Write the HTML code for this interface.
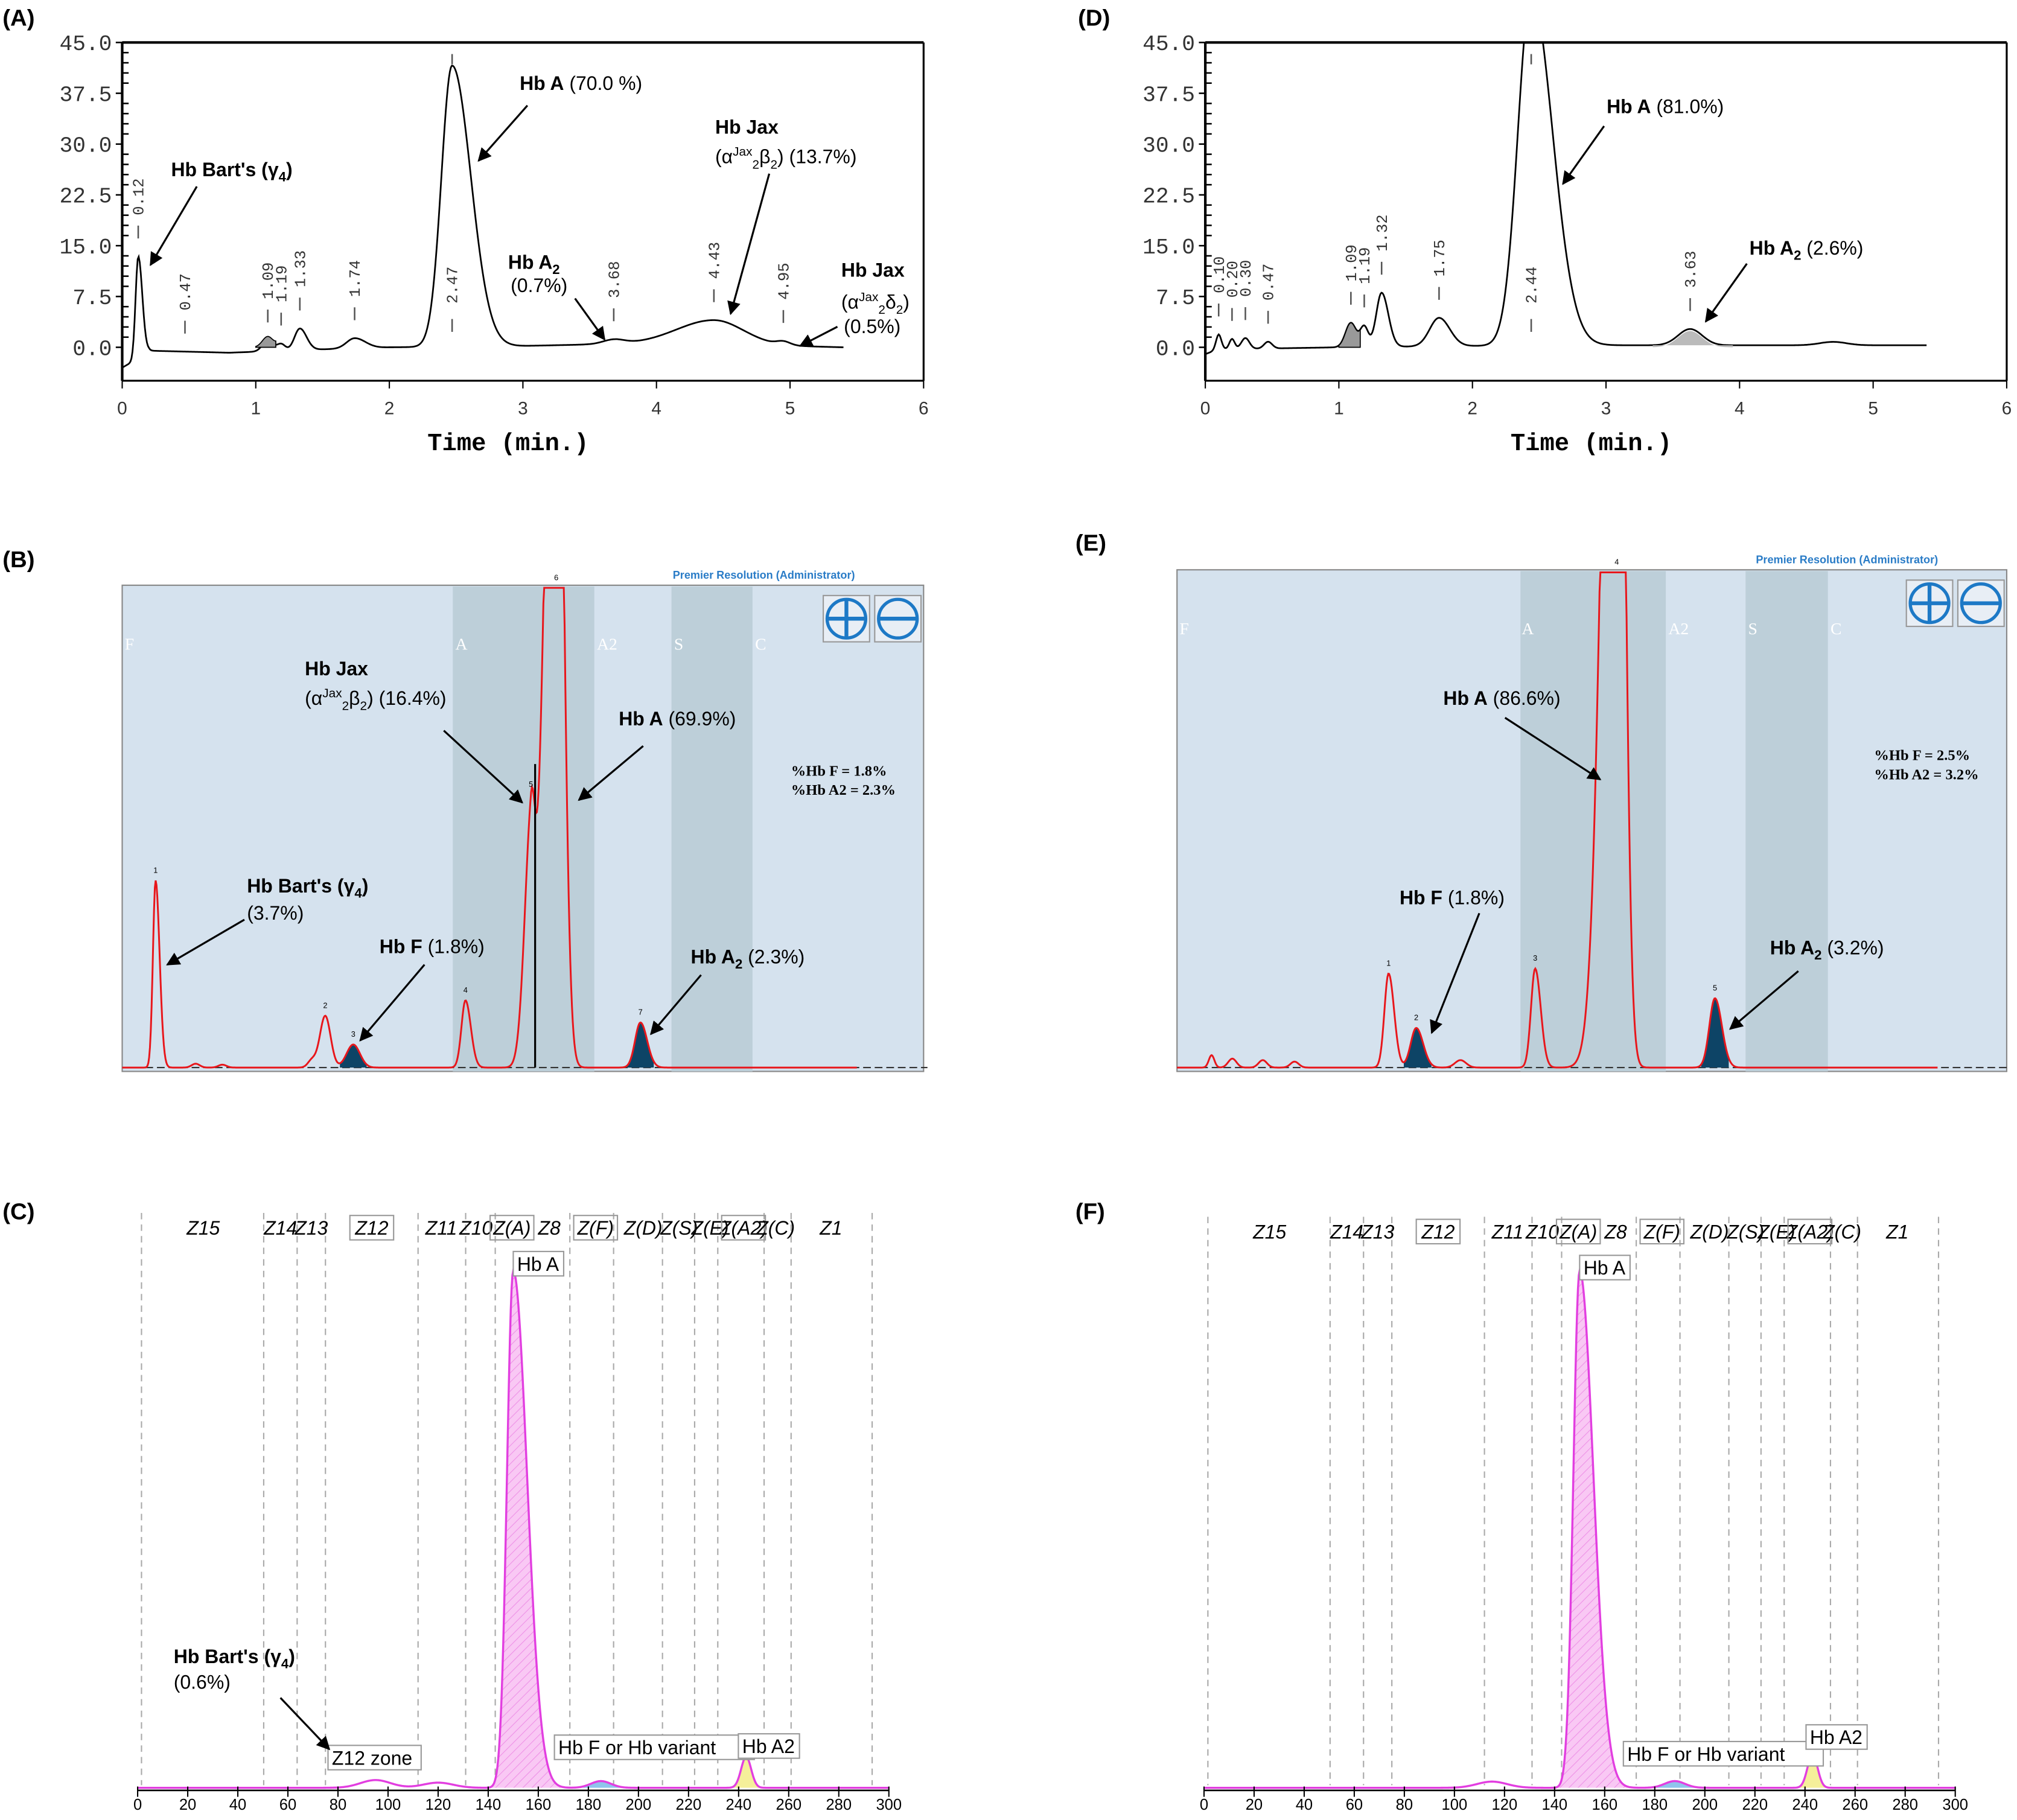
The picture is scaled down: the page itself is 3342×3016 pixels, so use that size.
<!DOCTYPE html>
<html><head><meta charset="utf-8">
<style>
html,body{margin:0;padding:0;background:#fff;}
svg{display:block;}
.mono{font-family:"Liberation Mono",monospace;}
.sans{font-family:"Liberation Sans",sans-serif;}
.ann{font-family:"Liberation Sans",sans-serif;font-size:15px;fill:#000;}
</style></head>
<body>
<svg id="fig" xmlns="http://www.w3.org/2000/svg" width="3342" height="3016" viewBox="0 0 1568 1415">
<defs>
<marker id="arr" viewBox="0 0 10 10" refX="9" refY="5" markerWidth="7" markerHeight="7" orient="auto"><path d="M0,0 L10,5 L0,10 z" fill="#000"/></marker>
<pattern id="hatch" width="5" height="5" patternUnits="userSpaceOnUse" patternTransform="rotate(45)"><rect width="5" height="5" fill="#f9c8f4"/><line x1="0" y1="0" x2="0" y2="5" stroke="#ee8fe6" stroke-width="1"/></pattern>
</defs>
<g id="root"></g>
</svg>
<script>
// ===== Panel A data (HPLC, minutes / signal) =====
const aPeakT  = [0.12, 1.09, 1.19, 1.33, 1.74, 2.47, 3.68, 4.43, 4.95];
const aPeakH  = [15.0, 1.6, 1.0, 3.2, 1.5, 41.5, 0.6, 3.6, 0.5];
const aPeakWL = [0.02, 0.04, 0.03, 0.04, 0.06, 0.08, 0.08, 0.28, 0.05];
const aPeakWR = [0.03, 0.04, 0.03, 0.05, 0.08, 0.14, 0.08, 0.22, 0.05];
const aBaseT  = [0.0, 0.09, 0.2, 0.8, 1.5, 2.0, 3.0, 3.7, 4.5, 5.0, 5.4];
const aBaseV  = [-3.0, -2.0, -0.5, -0.8, -0.3, 0.0, 0.2, 0.5, 0.4, 0.2, 0.0];
const aLabelT = ["0.12","0.47","1.09","1.19","1.33","1.74","2.47","3.68","4.43","4.95"];
const yTicks  = [0, 7.5, 15, 22.5, 30, 37.5, 45];
const xTicks  = [0, 1, 2, 3, 4, 5, 6];
// ===== Panel D data =====
const dPeakT  = [0.10, 0.20, 0.30, 0.47, 1.09, 1.19, 1.32, 1.75, 2.44, 3.63, 4.70];
const dPeakH  = [2.2, 1.5, 1.6, 1.0, 3.6, 3.0, 8.0, 4.2, 52.0, 2.4, 0.5];
const dPeakWL = [0.02, 0.02, 0.03, 0.03, 0.04, 0.03, 0.04, 0.07, 0.10, 0.09, 0.1];
const dPeakWR = [0.02, 0.02, 0.03, 0.03, 0.04, 0.03, 0.05, 0.08, 0.16, 0.09, 0.1];
const dBaseT  = [0.0, 0.1, 1.0, 2.0, 3.0, 4.0, 5.4];
const dBaseV  = [-1.0, -0.3, 0.0, 0.2, 0.3, 0.3, 0.3];
const dLabelT = ["0.10","0.20","0.30","0.47","1.09","1.19","1.32","1.75","2.44","3.63"];
// ===== Panel B data (Premier Resolution, rel. min / %) =====
const bPeakT  = [0.25, 0.55, 0.75, 1.42, 1.52, 1.73, 2.57, 3.06, 3.25, 3.88];
const bPeakH  = [39, 0.8, 0.6, 1.5, 10.8, 4.8, 14, 45, 200, 9.4];
const bPeakWL = [0.02, 0.03, 0.03, 0.03, 0.04, 0.05, 0.03, 0.05, 0.08, 0.04];
const bPeakWR = [0.03, 0.03, 0.03, 0.03, 0.04, 0.05, 0.04, 0.03, 0.05, 0.05];
// ===== Panel E data =====
const ePeakT  = [0.25, 0.40, 0.62, 0.85, 1.53, 1.73, 2.05, 2.59, 3.18, 3.89];
const ePeakH  = [2.5, 1.8, 1.5, 1.2, 19, 8, 1.5, 20, 250, 14];
const ePeakWL = [0.02, 0.03, 0.03, 0.03, 0.03, 0.04, 0.04, 0.03, 0.09, 0.04];
const ePeakWR = [0.02, 0.03, 0.03, 0.03, 0.04, 0.05, 0.04, 0.04, 0.05, 0.05];
// ===== Panel C data (capillary electrophoresis, zone units / %) =====
const cPeakT  = [95, 120, 150, 185, 243];
const cPeakH  = [1.5, 1.0, 100, 1.3, 6.0];
const cPeakWL = [6, 6, 2.5, 4, 2];
const cPeakWR = [6, 6, 5.5, 4, 2];
// ===== Panel F data =====
const fPeakT  = [115, 150, 188, 243];
const fPeakH  = [1.2, 100, 1.3, 6.5];
const fPeakWL = [6, 2.5, 4, 2];
const fPeakWR = [6, 5.5, 4, 2];
const ceTicks = [0,20,40,60,80,100,120,140,160,180,200,220,240,260,280,300];
const zoneNames = ["Z15","Z14","Z13","Z12","Z11","Z10","Z(A)","Z8","Z(F)","Z(D)","Z(S)","Z(E)","Z(A2)","Z(C)","Z1"];
const zoneBoxed = [false,false,false,true,false,false,true,false,true,false,false,false,true,false,false];

const NS = "http://www.w3.org/2000/svg";
const root = document.getElementById('root');
function el(tag, attrs, parent, text){
  const e = document.createElementNS(NS, tag);
  for (const k in attrs) e.setAttribute(k, attrs[k]);
  if (text !== undefined) e.textContent = text;
  (parent||root).appendChild(e);
  return e;
}
function lin(d0,d1,r0,r1){ return v => r0 + (v-d0)*(r1-r0)/(d1-d0); }
function interp(ts, vs, t){
  if (t<=ts[0]) return vs[0];
  for (let i=1;i<ts.length;i++) if (t<=ts[i]) return vs[i-1]+(vs[i]-vs[i-1])*(t-ts[i-1])/(ts[i]-ts[i-1]);
  return vs[vs.length-1];
}
function signal(t, T,H,WL,WR, bt,bv){
  let s = bt ? interp(bt,bv,t) : 0;
  for (let i=0;i<T.length;i++){ const w = t<T[i]?WL[i]:WR[i]; s += H[i]*Math.exp(-0.5*((t-T[i])/w)**2); }
  return s;
}
function trace(x,y,t0,t1,n,T,H,WL,WR,bt,bv,ymax){
  let d="";
  for (let i=0;i<=n;i++){ const t=t0+(t1-t0)*i/n; let v=signal(t,T,H,WL,WR,bt,bv); if(ymax!==undefined&&v>ymax)v=ymax; d+=(i?"L":"M")+x(t).toFixed(2)+","+y(v).toFixed(2); }
  return d;
}
function peakFill(x,y,t0,t1,T,H,WL,WR,base){
  let d="M"+x(t0)+","+y(base);
  for (let i=0;i<=60;i++){ const t=t0+(t1-t0)*i/60; d+="L"+x(t).toFixed(2)+","+y(signal(t,T,H,WL,WR)).toFixed(2); }
  return d+"L"+x(t1)+","+y(base)+"Z";
}
function arrow(x1,y1,x2,y2,name){
  const a = el('line',{x1,y1,x2,y2,stroke:'#000','stroke-width':1.5,'marker-end':'url(#arr)'});
  
  
}
function ann(x,y,bold,rest,name,size){
  const t = el('text',{x,y,class:'ann','font-size':size||15});
  
  
  el('tspan',{'font-weight':'bold'},t,bold);
  if (rest) el('tspan',{},t,rest);
  return t;
}
// rich: parts = [[text, 'n'|'b'|'sup'|'sub'|'bsub']]
function rich(x,y,parts,name,size){
  const t = el('text',{x,y,class:'ann','font-size':size||15});
  
  
  let shift=0;
  parts.forEach(([s,k])=>{
    const target = k==='sup'?-6:((k==='sub'||k==='bsub')?4:0);
    const a = {dy: target-shift};
    if (k!=='n' && k!=='b') a['font-size'] = (size||15)*0.65;
    if (k==='b' || k==='bsub') a['font-weight'] = 'bold';
    el('tspan',a,t,s); shift=target;
  });
  return t;
}
function panelLabel(x,y,txt){
  const t = el('text',{x,y,'font-family':'Liberation Sans,sans-serif','font-weight':'bold','font-size':18},root,txt);
  
  
}

// ===== HPLC panels A & D =====
function hplc(px, T,H,WL,WR,bt,bv,labels,id){
  const x = lin(0,6,px,px+623), y = lin(0,45,270,33);
  const g = el('g',{});
  
  
  el('line',{x1:px,y1:33,x2:px+623,y2:33,stroke:'#000','stroke-width':2},g);
  el('line',{x1:px+623,y1:33,x2:px+623,y2:296,stroke:'#000','stroke-width':1.5},g);
  el('line',{x1:px,y1:33,x2:px,y2:296,stroke:'#000','stroke-width':2},g);
  el('line',{x1:px,y1:296,x2:px+623,y2:296,stroke:'#000','stroke-width':1.5},g);
  for (let v=0; v<=45.001; v+=1.5){ const major = Math.abs(v/7.5-Math.round(v/7.5))<1e-6; el('line',{x1:px,y1:y(v),x2:px+(major?-5:5),y2:y(v),stroke:'#000','stroke-width':1.2},g); }
  yTicks.forEach(v=>{ const t=el('text',{x:px-8,y:y(v)+6,'text-anchor':'end',class:'mono','font-size':17,fill:'#333'},g,v.toFixed(1));
      });
  xTicks.forEach(v=>{ el('line',{x1:x(v),y1:296,x2:x(v),y2:302,stroke:'#000'},g);
    const t=el('text',{x:x(v),y:322,'text-anchor':'middle',class:'sans','font-size':14,fill:'#333'},g,String(v));
      });
  const xt = el('text',{x:px+300,y:350,'text-anchor':'middle',class:'mono','font-weight':'bold','font-size':19},g,'Time (min.)');
   
  const cp = el('clipPath',{id:'clip'+id},g); el('rect',{x:px,y:33,width:623,height:263},cp);
  const p = el('path',{d:trace(x,y,0,5.4,700,T,H,WL,WR,bt,bv),fill:'none',stroke:'#000','stroke-width':1.3,'clip-path':'url(#clip'+id+')'},g);
   
  labels.forEach(s=>{ const t=+s, v=signal(t,T,H,WL,WR,bt,bv);
    if (v>30){
      el('line',{x1:x(t),y1:42,x2:x(t),y2:50,stroke:'#555','stroke-width':1.2},g);
      el('line',{x1:x(t),y1:248,x2:x(t),y2:258,stroke:'#555','stroke-width':1.2},g);
      const lt=el('text',{x:0,y:0,class:'mono','font-size':12,fill:'#333',transform:`translate(${x(t)+4},${236}) rotate(-90)`},g,s);
       
      return;
    }
    const yy = Math.max(Math.min(y(v)-18, 300), 48);
    el('line',{x1:x(t),y1:yy-6,x2:x(t),y2:yy+4,stroke:'#555','stroke-width':1.2},g);
    const lt=el('text',{x:0,y:0,class:'mono','font-size':12,fill:'#333',transform:`translate(${x(t)+4},${yy-14}) rotate(-90)`},g,s);
      });
  return {x,y,g};
}
panelLabel(2,20,'(A)');
const A = hplc(95,aPeakT,aPeakH,aPeakWL,aPeakWR,aBaseT,aBaseV,aLabelT,'A');
el('path',{d:peakFill(A.x,A.y,1.0,1.15,aPeakT,aPeakH,aPeakWL,aPeakWR,0),fill:'#999',stroke:'#000','stroke-width':0.8});
rich(133,137,[["Hb Bart's (γ",'b'],["4",'bsub'],[")",'b']],"ann-hb-barts-a",16);
arrow(153,145,117,206,'arrow-barts-a');
ann(404,70,"Hb A"," (70.0 %)","ann-hba-a",16);
arrow(410,82,372,125,'arrow-hba-a');
ann(556,104,"Hb Jax","","ann-hbjax-a",16);
rich(556,127,[["(α",'n'],["Jax",'sup'],["2",'sub'],["β",'n'],["2",'sub'],[") (13.7%)",'n']],"ann-hbjax-a-sub",15);
arrow(598,135,568,244,'arrow-hbjax-a');
rich(395,209,[["Hb A",'b'],["2",'bsub']],"ann-hba2-a",16);
ann(397,227,"","(0.7%)","ann-hba2-a-pct",15);
arrow(447,232,470,264,'arrow-hba2-a');
ann(654,215,"Hb Jax","","ann-hbjax2-a",16);
rich(654,240,[["(α",'n'],["Jax",'sup'],["2",'sub'],["δ",'n'],["2",'sub'],[")",'n']],"ann-hbjax2-a-sub",15);
ann(656,259,"","(0.5%)","ann-hbjax2-a-pct",15);
arrow(651,254,622,269,'arrow-hbjax2-a');

panelLabel(838,20,'(D)');
const D = hplc(937,dPeakT,dPeakH,dPeakWL,dPeakWR,dBaseT,dBaseV,dLabelT,'D');
el('path',{d:peakFill(D.x,D.y,1.0,1.16,dPeakT,dPeakH,dPeakWL,dPeakWR,0),fill:'#999',stroke:'#000','stroke-width':0.8});
el('path',{d:peakFill(D.x,D.y,3.35,3.95,dPeakT,dPeakH,dPeakWL,dPeakWR,0.3),fill:'#bbb',stroke:'none'});
ann(1249,88,"Hb A"," (81.0%)","ann-hba-d",16);
arrow(1247,98,1215,143,'arrow-hba-d');
rich(1360,198,[["Hb A",'b'],["2",'bsub'],["  (2.6%)",'n']],"ann-hba2-d",16);
arrow(1358,205,1326,250,'arrow-hba2-d');

// ===== Premier Resolution panels B & E =====
function premier(x0,x1,top,bands,T,H,WL,WR,fills,id,letters,pct){
  const x = lin(0,6,x0,x1), y = lin(0,100,830,top+2);
  const g = el('g',{});
   
  el('rect',{x:x0,y:top,width:x1-x0,height:833-top,fill:'#d5e2ee',stroke:'#888','stroke-width':1},g);
  bands.forEach(b=>el('rect',{x:b[0],y:top+1,width:b[1]-b[0],height:832-top,fill:'#bdcfd9'},g));
  letters.forEach(l=>{ const t=el('text',{x:l[0],y:top+50,'font-family':'Liberation Serif,serif','font-size':13,fill:'#fff'},g,l[1]);   });
  const h = el('text',{x:x1-195,y:top-5,'font-family':'Liberation Sans,sans-serif','font-size':8.5,'font-weight':'bold',fill:'#2a7cc7'},g,'Premier Resolution (Administrator)');
   
  [[x1-60,'plus'],[x1-20,'minus']].forEach(([cx,k])=>{ const c=el('g',{},g);
     
    el('rect',{x:cx-18,y:top+8,width:36,height:36,fill:'#e8eef5',stroke:'#999'},c);
    el('circle',{cx,cy:top+26,r:15,fill:'none',stroke:'#1d79c6','stroke-width':2.5},c);
    el('line',{x1:cx-14,y1:top+26,x2:cx+14,y2:top+26,stroke:'#1d79c6','stroke-width':3},c);
    if(k==='plus') el('line',{x1:cx,y1:top+12,x2:cx,y2:top+40,stroke:'#1d79c6','stroke-width':3},c); });
  el('line',{x1:x0,y1:830,x2:x1+3,y2:830,stroke:'#333','stroke-dasharray':'6,3','stroke-width':1},g);
  fills.forEach(f=>el('path',{d:peakFill(x,y,f[0],f[1],T,H,WL,WR,0),fill:'#0d4466'},g));
  const p = el('path',{d:trace(x,y,0,5.5,900,T,H,WL,WR,null,null,100),fill:'none',stroke:'#e8161b','stroke-width':1.4},g);
   
  let n=0;
  T.forEach((t,i)=>{ if(H[i]>4){ n++; const v=Math.min(signal(t,T,H,WL,WR),100); el('text',{x:x(t),y:y(v)-6,'text-anchor':'middle','font-family':'Liberation Sans,sans-serif','font-size':6},g,String(n)); }});
  const pt = el('text',{x:x1-103,y:top+148,'font-family':'Liberation Serif,serif','font-weight':'bold','font-size':11.5},g);
   
  el('tspan',{x:x1-103,dy:0},pt,pct[0]); el('tspan',{x:x1-103,dy:15},pt,pct[1]);
  return {x,y};
}
panelLabel(2,441,'(B)');
premier(95,718,455,[[352,462],[522,585]],bPeakT,bPeakH,bPeakWL,bPeakWR,[[1.63,1.83],[3.78,3.98]],'B',
  [[97,'F'],[354,'A'],[464,'A2'],[524,'S'],[587,'C']],['%Hb F = 1.8%','%Hb A2 = 2.3%']);
el('line',{x1:416,y1:594,x2:416,y2:830,stroke:'#000','stroke-width':1.5});
ann(237,525,"Hb Jax","","ann-hbjax-b",17);
rich(237,548,[["(α",'n'],["Jax",'sup'],["2",'sub'],["β",'n'],["2",'sub'],[") (16.4%)",'n']],"ann-hbjax-b-sub",15);
arrow(345,568,406,624,'arrow-hbjax-b');
ann(481,564,"Hb A"," (69.9%)","ann-hba-b",16); arrow(500,580,450,622,'arrow-hba-b');
rich(192,694,[["Hb Bart's (γ",'b'],["4",'bsub'],[")",'b']],"ann-barts-b",16);
ann(192,715,"","(3.7%)","ann-barts-b-pct",15);
arrow(190,715,130,750,'arrow-barts-b');
ann(295,741,"Hb F"," (1.8%)","ann-hbf-b",16); arrow(330,750,280,809,'arrow-hbf-b');
rich(537,749,[["Hb A",'b'],["2",'bsub'],[" (2.3%)",'n']],"ann-hba2-b",16); arrow(545,758,506,804,'arrow-hba2-b');

panelLabel(836,428,'(E)');
premier(915,1560,443,[[1182,1295],[1357,1421]],ePeakT,ePeakH,ePeakWL,ePeakWR,[[1.64,1.84],[3.79,3.99]],'E',
  [[917,'F'],[1183,'A'],[1297,'A2'],[1359,'S'],[1423,'C']],['%Hb F = 2.5%','%Hb A2 = 3.2%']);
ann(1122,548,"Hb A"," (86.6%)","ann-hba-e",16); arrow(1170,558,1244,606,'arrow-hba-e');
ann(1088,703,"Hb F"," (1.8%)","ann-hbf-e",16); arrow(1150,710,1113,803,'arrow-hbf-e');
rich(1376,742,[["Hb A",'b'],["2",'bsub'],[" (3.2%)",'n']],"ann-hba2-e",16); arrow(1398,755,1345,800,'arrow-hba2-e');

// ===== Capillary panels C & F =====
const zoneX = [110,205,231,253,325,362,385,443,477,515,540,558,594,615,678];
const zoneLblX = [158,218,242,289,343,370,398,427,463,500,528,552,578,603,646];
function capillary(off,lblY,T,H,WL,WR,id){
  const x = lin(0,300,107+off,691+off), y = lin(0,100,1390,988);
  const g = el('g',{});
   
  zoneX.forEach(z=>el('line',{x1:z+off,y1:943+(off?3:0),x2:z+off,y2:1388,stroke:'#aaa','stroke-dasharray':'5,4','stroke-width':1},g));
  zoneNames.forEach((n,i)=>{ const t=el('text',{x:zoneLblX[i]+off,y:lblY,'text-anchor':'middle','font-family':'Liberation Sans,sans-serif','font-style':'italic','font-size':15},g,n);
     
    if(zoneBoxed[i]) el('rect',{x:zoneLblX[i]+off-17,y:lblY-15,width:34,height:19,fill:'none',stroke:'#999'},g); });
  el('path',{d:peakFill(x,y,140,178,T,H,WL,WR,0),fill:'url(#hatch)'},g);
  el('path',{d:peakFill(x,y,178,198,T,H,WL,WR,0),fill:'#8fc3ec'},g);
  el('path',{d:peakFill(x,y,237,250,T,H,WL,WR,0),fill:'#f5ef9a'},g);
  const p = el('path',{d:trace(x,y,0,300,900,T,H,WL,WR),fill:'none',stroke:'#e23ee0','stroke-width':1.6},g);
   
  el('line',{x1:x(0),y1:1392,x2:x(300),y2:1392,stroke:'#000','stroke-width':1.2},g);
  ceTicks.forEach(v=>{ el('line',{x1:x(v),y1:1389,x2:x(v),y2:1397,stroke:'#000'},g);
    const t=el('text',{x:x(v),y:1407,'text-anchor':'middle','font-family':'Liberation Sans,sans-serif','font-size':12},g,String(v));
      });
  return {x,y,g};
}
function boxLabel(x,y,txt,name){
  const w = txt.length*8.3+6;
  el('rect',{x:x-3,y:y-15,width:w,height:19,fill:'#fff',stroke:'#999'});
  const t=el('text',{x,y,'font-family':'Liberation Sans,sans-serif','font-size':15},root,txt);
   
}
panelLabel(2,948,'(C)');
capillary(0,960,cPeakT,cPeakH,cPeakWL,cPeakWR,'C');
boxLabel(402,988,'Hb A','peak-label-hba-c');
boxLabel(258,1372,'Z12 zone','peak-label-z12-c');
boxLabel(434,1364,'Hb F or Hb variant','peak-label-hbf-c');
boxLabel(577,1363,'Hb A2','peak-label-hba2-c');
rich(135,1293,[["Hb Bart's (γ",'b'],["4",'bsub'],[")",'b']],"ann-barts-c",16);
ann(135,1313,"","(0.6%)","ann-barts-c-pct",15);
arrow(218,1320,256,1360,'arrow-barts-c');

panelLabel(836,948,'(F)');
capillary(829,963,fPeakT,fPeakH,fPeakWL,fPeakWR,'F');
boxLabel(1231,991,'Hb A','peak-label-hba-f');
boxLabel(1265,1369,'Hb F or Hb variant','peak-label-hbf-f');
boxLabel(1407,1356,'Hb A2','peak-label-hba2-f');
</script>
</body></html>
